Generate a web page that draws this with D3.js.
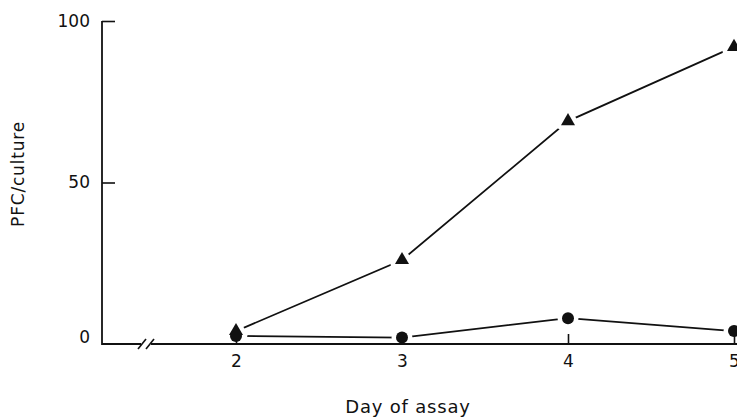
<!DOCTYPE html>
<html>
<head>
<meta charset="utf-8">
<script src="https://cdn.jsdelivr.net/npm/d3@7"></script>
<style>
  html, body { margin: 0; padding: 0; background: #fff; }
  svg { display: block; }
  text { font-family: "DejaVu Sans", "Noto Sans", sans-serif; fill: #111; }
</style>
</head>
<body>
<script>
// ---- data ----
const days = [2, 3, 4, 5];
const triangleSeries = [4, 26, 69, 92];
const circleSeries = [2.5, 2, 8, 4];
const yTicks = [0, 50, 100];
const xTicks = [2, 3, 4, 5];
const xTitle = "Day of assay";
const yTitle = "PFC/culture";

// ---- layout ----
const W = 737, H = 419;
const svg = d3.select("body").append("svg").attr("width", W).attr("height", H);

const axisX0 = 102;
const x = d3.scaleLinear().domain([2, 5]).range([236, 734]);
const y = d3.scaleLinear().domain([0, 100]).range([344, 21]);
const baseY = y(0);

// y axis
const yAxis = d3.axisLeft(y).tickValues(yTicks).tickFormat(d3.format("d"))
  .tickSizeInner(-13).tickSizeOuter(0).tickPadding(12);
const gy = svg.append("g").attr("transform", `translate(${axisX0},0)`).call(yAxis);
gy.select(".domain").remove();
gy.selectAll(".tick line").attr("stroke", "#111").attr("stroke-width", 1.6)
  .filter(d => d === 0).remove();
gy.selectAll(".tick text").style("font-size", "17px")
  .attr("dy", (d) => d === 0 ? "-0.1em" : "0.3em");

svg.append("line").attr("x1", axisX0).attr("x2", axisX0)
  .attr("y1", y(100)).attr("y2", baseY + 1)
  .attr("stroke", "#111").attr("stroke-width", 1.8);

// x axis
const xAxis = d3.axisBottom(x).tickValues(xTicks).tickFormat(d3.format("d"))
  .tickSizeInner(-10).tickSizeOuter(0).tickPadding(11);
const gx = svg.append("g").attr("transform", `translate(0,${baseY})`).call(xAxis);
gx.select(".domain").remove();
gx.selectAll(".tick line").attr("stroke", "#111").attr("stroke-width", 1.6);
gx.selectAll(".tick text").style("font-size", "17px");

// baseline with break
const brk = 146;
svg.append("line").attr("x1", axisX0).attr("x2", brk - 5)
  .attr("y1", baseY).attr("y2", baseY).attr("stroke", "#111").attr("stroke-width", 1.8);
svg.append("line").attr("x1", brk + 5).attr("x2", W)
  .attr("y1", baseY).attr("y2", baseY).attr("stroke", "#111").attr("stroke-width", 1.8);
[-4, 4].forEach(o => {
  svg.append("line")
    .attr("x1", brk + o - 4).attr("y1", baseY + 5)
    .attr("x2", brk + o + 4).attr("y2", baseY - 5)
    .attr("stroke", "#111").attr("stroke-width", 1.6);
});

// lines
const line = d3.line().x((d, i) => x(days[i])).y(d => y(d));
svg.append("path").datum(circleSeries).attr("d", line)
  .attr("fill", "none").attr("stroke", "#111").attr("stroke-width", 1.8);
svg.append("path").datum(triangleSeries).attr("d", line)
  .attr("fill", "none").attr("stroke", "#111").attr("stroke-width", 1.8);

// markers (white halo creates the gap between line and marker)
const tri = d3.symbol().type(d3.symbolTriangle).size(85);
svg.selectAll(".circ").data(circleSeries).enter().append("circle")
  .attr("cx", (d, i) => x(days[i])).attr("cy", d => y(d)).attr("r", 6)
  .attr("fill", "#fff").attr("stroke", "#fff").attr("stroke-width", 9);
svg.selectAll(".tri").data(triangleSeries).enter().append("path")
  .attr("d", tri)
  .attr("transform", (d, i) => `translate(${x(days[i])},${y(d)})`)
  .attr("fill", "#fff").attr("stroke", "#fff").attr("stroke-width", 9)
  .attr("stroke-linejoin", "round");
// restore axis under halos
svg.append("line").attr("x1", brk + 5).attr("x2", W)
  .attr("y1", baseY).attr("y2", baseY).attr("stroke", "#111").attr("stroke-width", 1.8);
gx.raise();
// solid markers
svg.selectAll(".circ2").data(circleSeries).enter().append("circle")
  .attr("cx", (d, i) => x(days[i])).attr("cy", d => y(d)).attr("r", 6)
  .attr("fill", "#111");
svg.selectAll(".tri2").data(triangleSeries).enter().append("path")
  .attr("d", tri)
  .attr("transform", (d, i) => `translate(${x(days[i])},${y(d)})`)
  .attr("fill", "#111");

// titles
svg.append("text").attr("x", 408).attr("y", 413).attr("text-anchor", "middle")
  .style("font-size", "18px").style("letter-spacing", "0.8px").text(xTitle);
svg.append("text").attr("transform", "translate(24,174) rotate(-90)")
  .attr("text-anchor", "middle").style("font-size", "17px")
  .style("letter-spacing", "0.8px").text(yTitle);
</script>
</body>
</html>
